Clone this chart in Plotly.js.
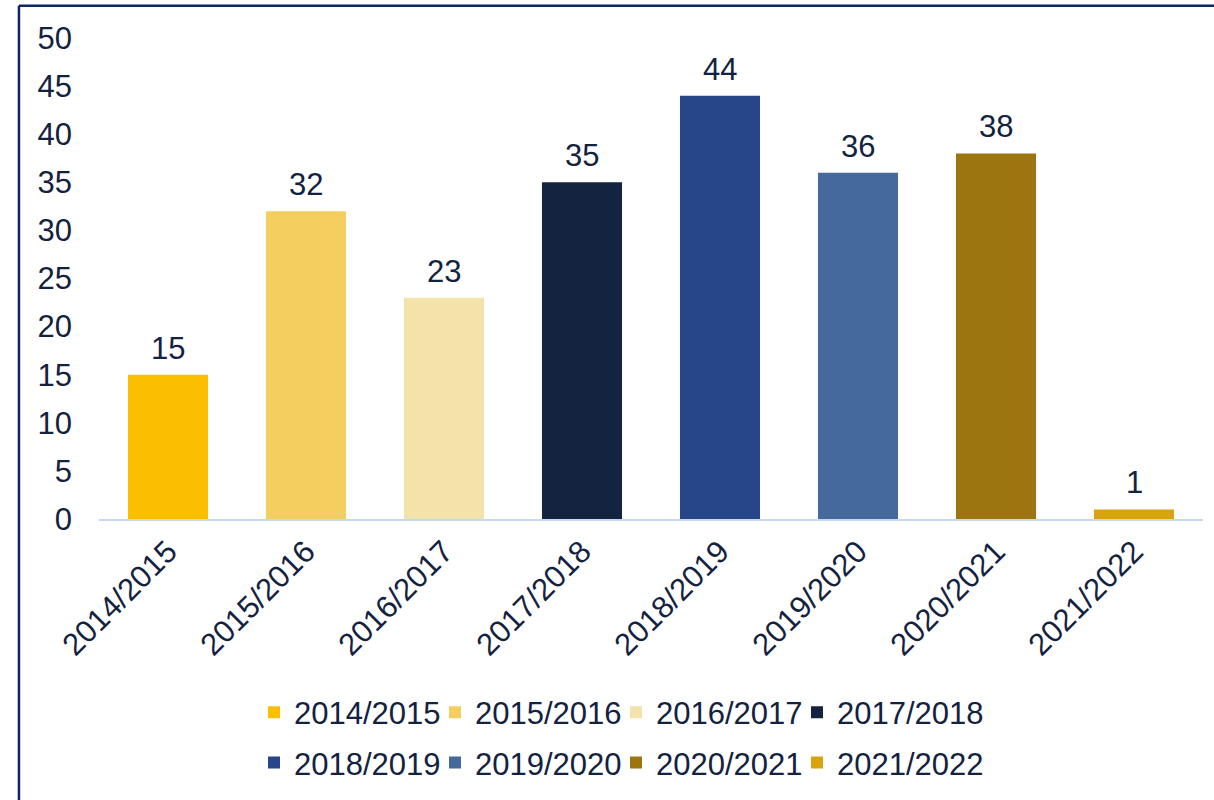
<!DOCTYPE html>
<html>
<head>
<meta charset="utf-8">
<script src="https://cdn.plot.ly/plotly-3.0.1.min.js"></script>
<style>
  html, body { margin: 0; padding: 0; background: #ffffff; }
  #chart { width: 1214px; height: 800px; }
</style>
</head>
<body>
<div id="chart"></div>
<script>
// Data
const categories = ["2014/2015", "2015/2016", "2016/2017", "2017/2018", "2018/2019", "2019/2020", "2020/2021", "2021/2022"];
const values = [15, 32, 23, 35, 44, 36, 38, 1];
const barColors = ["#FBBE00", "#F4CF60", "#F3E2AA", "#14233F", "#27468A", "#45699A", "#9C7410", "#D9A30F"];
const yTicks = [0, 5, 10, 15, 20, 25, 30, 35, 40, 45, 50];

const FONT = "Liberation Sans, Arial, sans-serif";
const TEXT_COLOR = "#13223F";

const legendIds = ["legend", "legend2", "legend3", "legend4"];

const traces = categories.map((c, i) => ({
  type: "bar",
  name: c,
  x: [c],
  y: [values[i]],
  marker: { color: barColors[i] },
  width: 0.58,
  legend: legendIds[i % 4],
  legendgroup: "g" + i,
  hoverinfo: "x+y"
}));

const annotations = categories.map((c, i) => ({
  x: c, y: values[i], xref: "x", yref: "y",
  text: String(values[i]),
  showarrow: false, yanchor: "bottom", yshift: 7,
  font: { family: FONT, size: 31, color: TEXT_COLOR }
}));

// plot area: x 99..1203 px, y 38..522 px
function makeLegend(col) {
  return {
    orientation: "v",
    x: (254 + col * 181 - 99) / 1104,
    y: (522 - 742) / 484,
    xanchor: "left",
    yanchor: "middle",
    font: { family: FONT, size: 31, color: TEXT_COLOR },
    tracegroupgap: 7,
    bgcolor: "rgba(0,0,0,0)",
    traceorder: "grouped"
  };
}

const layout = {
  width: 1214,
  height: 800,
  margin: { l: 99, r: 11, t: 38, b: 278, pad: 0 },
  paper_bgcolor: "#ffffff",
  plot_bgcolor: "#ffffff",
  font: { family: FONT, size: 31, color: TEXT_COLOR },
  showlegend: true,
  bargap: 0.42,
  xaxis: {
    type: "category",
    categoryorder: "array",
    categoryarray: categories,
    showline: true,
    linecolor: "#C6D9F1",
    linewidth: 2,
    showgrid: false,
    zeroline: false,
    ticks: "",
    tickangle: -45,
    tickfont: { family: FONT, size: 31, color: TEXT_COLOR },
    fixedrange: true
  },
  yaxis: {
    range: [0, 50],
    tickvals: yTicks,
    ticktext: yTicks.map(String),
    showgrid: false,
    zeroline: false,
    showline: false,
    ticks: "",
    ticklabelstandoff: 26,
    tickfont: { family: FONT, size: 31, color: TEXT_COLOR },
    fixedrange: true
  },
  legend: makeLegend(0),
  legend2: makeLegend(1),
  legend3: makeLegend(2),
  legend4: makeLegend(3),
  annotations: annotations,
  shapes: [
    { type: "line", xref: "paper", yref: "paper", x0: -0.0725, x1: -0.0725, y0: -0.7, y1: 1.067,
      line: { color: "#0B2566", width: 2.5 } },
    { type: "line", xref: "paper", yref: "paper", x0: -0.0725, x1: 1.1, y0: 1.067, y1: 1.067,
      line: { color: "#0B2566", width: 2.5 } }
  ]
};

Plotly.newPlot("chart", traces, layout, { displayModeBar: false, responsive: false });
</script>
</body>
</html>
